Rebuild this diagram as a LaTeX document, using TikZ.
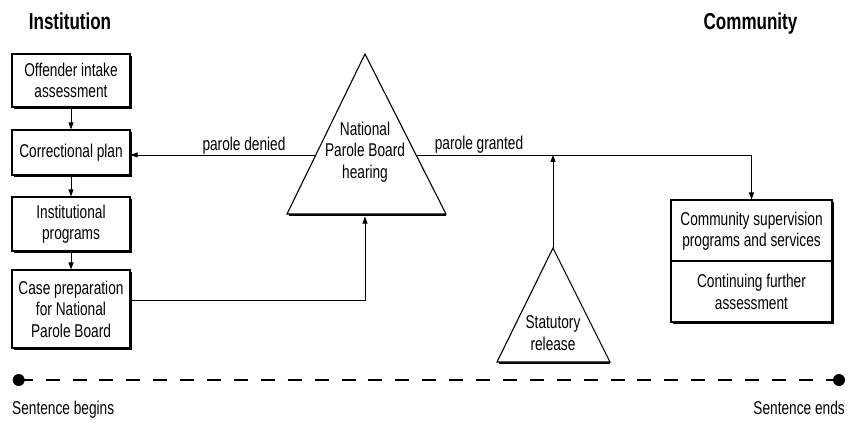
\documentclass[tikz,border=0pt]{standalone}
\usepackage{fontspec}
\setmainfont{Liberation Sans}[FakeStretch=0.74]
\usetikzlibrary{arrows.meta,shadows,calc}
\begin{document}
\begin{tikzpicture}[x=1pt,y=-1pt,
  every node/.style={inner sep=0pt, font=\fontsize{18.5}{21.5}\selectfont, align=center},
  stagebox/.style={draw, line width=1.1pt, fill=white, minimum width=118pt,
    drop shadow={shadow xshift=1.8pt, shadow yshift=-1.8pt, fill=black, opacity=1}},
  heading/.style={font=\fontsize{23}{26}\selectfont\bfseries},
  flow/.style={line width=0.9pt, -{Triangle[length=7pt,width=5pt]}},
  tri/.style={draw, line width=1.1pt, fill=white, line join=miter},
  dot/.style={circle, fill=black, minimum size=12pt},
]
\useasboundingbox (0,0) rectangle (854,424);

% column headings
\node[heading, anchor=base] (insthead) at (70,29) {Institution};
\node[heading, anchor=base] (commhead) at (750.5,29) {Community};

% institutional stages
\node[stagebox, minimum height=53pt] (intake) at (71,80.5) {Offender intake\\assessment};
\node[stagebox, minimum height=45pt] (plan) at (71,152.5) {Correctional plan};
\node[stagebox, minimum height=54pt] (progs) at (71,224) {Institutional\\programs};
\node[stagebox, minimum height=78pt] (caseprep) at (71,309) {Case preparation\\for National\\Parole Board};

\draw[flow] (intake.south) -- (plan.north);
\draw[flow] (plan.south) -- (progs.north);
\draw[flow] (progs.south) -- (caseprep.north);

% National Parole Board hearing triangle
\coordinate (npbA) at (365,54);
\coordinate (npbL) at (287,214);
\coordinate (npbR) at (446,214);
\coordinate (npbB) at (365,216.5);
\fill (288.5,214) rectangle (446,216.4);
\draw[tri] (npbA) -- (npbL) -- (npbR) -- cycle;
\node (npb) at (365,152) {National\\Parole Board\\hearing};
\coordinate (npbW) at ($(npbA)!0.631!(npbL)$);
\coordinate (npbE) at ($(npbA)!0.631!(npbR)$);

% statutory release triangle
\coordinate (srA) at (553,248);
\coordinate (srL) at (497,362);
\coordinate (srR) at (610,362);
\fill (498.5,362) rectangle (610,364.4);
\draw[tri] (srA) -- (srL) -- (srR) -- cycle;
\node (sr) at (553,333) {Statutory\\release};

% community supervision box
\node[stagebox, minimum width=161pt, minimum height=122pt] (comm) at (751.5,261) {};
\draw[line width=1.1pt] (comm.west) -- (comm.east);
\node (commA) at (751.5,231) {Community supervision\\programs and services};
\node (commB) at (751.5,292) {Continuing further\\assessment};

% decisions
\draw[flow] (npbW) -- (npbW -| plan.east);
\node[anchor=base] (denied) at (244,150) {parole denied};
\draw[flow] (npbE) -| (comm.north);
\node[anchor=base] (granted) at (479,149) {parole granted};
\draw[flow] (srA) -- (srA |- npbE);
\draw[flow] ([yshift=9pt]caseprep.east) -| (npbB);

% sentence timeline
\node[dot] (tstart) at (18.7,380) {};
\node[dot] (tend) at (839,380) {};
\draw[line width=2.4pt, dash pattern=on 14pt off 12.9pt] (tstart.center) -- (tend.center);
\node[anchor=base west] (sbeg) at (12,414) {Sentence begins};
\node[anchor=base east] (send) at (845,414) {Sentence ends};
\end{tikzpicture}
\end{document}
